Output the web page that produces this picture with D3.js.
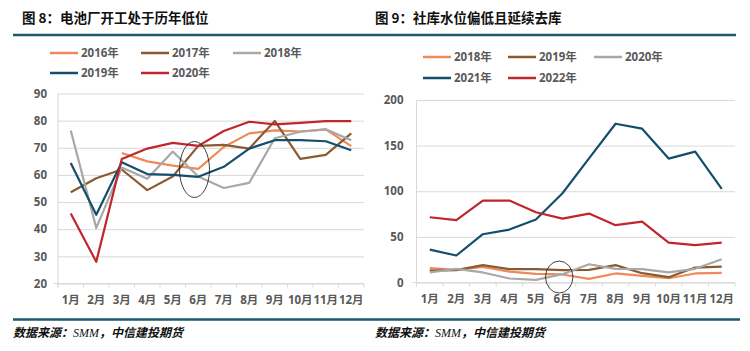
<!DOCTYPE html>
<html>
<head>
<meta charset="utf-8">
<script src="https://cdn.jsdelivr.net/npm/d3@7"></script>
<style>
  body { margin: 0; background: #fff; }
  svg { display: block; }
  .axis text { font-family: "Open Sans", "Noto Sans CJK SC", sans-serif; font-weight: bold; font-size: 11.5px; fill: #595959; }
  .axis path, .axis line { stroke: #D9D9D9; }
  .grid line { stroke: #D9D9D9; }
  .grid path { display: none; }
</style>
</head>
<body>
<div id="chart"></div>
<script>
var months = ["1月","2月","3月","4月","5月","6月","7月","8月","9月","10月","11月","12月"];

// 图8 电池厂开工率
var years8 = ["2016年","2017年","2018年","2019年","2020年"];
var run2016 = [null, null, 68.1, 65, 63.4, 62.2, 70.3, 75.3, 76.4, 76, 76.8, 70.6];
var run2017 = [53.6, 58.8, 62, 54.4, 59.4, 70.7, 71.1, 69.7, 79.9, 65.9, 67.4, 75.3];
var run2018 = [76.4, 40.5, 62.7, 58.6, 68.6, 59.4, 55.2, 57.1, 73.5, 75.9, 76.8, 72.8];
var run2019 = [64.4, 45.3, 64.7, 60.3, 60, 59.3, 63, 69.7, 72.8, 72.8, 72.4, 69.1];
var run2020 = [45.8, 28, 65.9, 69.7, 71.8, 70.7, 76.2, 79.6, 78.6, 79.2, 79.8, 79.8];
var ticks8 = [20, 30, 40, 50, 60, 70, 80, 90];

// 图9 社库
var years9 = ["2018年","2019年","2020年","2021年","2022年"];
var inv2018 = [15.7, 13.9, 17.2, 12, 9.5, 8.8, 4, 9.9, 7.3, 4.7, 9.9, 10.6];
var inv2019 = [13.1, 13.5, 19, 14.6, 14.6, 13.5, 13.9, 19, 10.2, 5.8, 16.4, 17.5];
var inv2020 = [11, 15, 11, 4.4, 2.9, 9.1, 20, 15, 14.6, 11, 15, 25.5];
var inv2021 = [36.1, 29.6, 52.9, 58, 69, 97.8, 136, 174, 168.6, 135.8, 143.4, 102.6];
var inv2022 = [71.5, 68.3, 89.8, 89.8, 77, 70, 75.5, 62.8, 66.8, 43.8, 40.9, 43.8];
var ticks9 = [0, 50, 100, 150, 200];

var colors = ["#EE8A5A", "#8A5B32", "#A8A8A8", "#134F6C", "#C1252D"];

var svg = d3.select("#chart").append("svg")
    .attr("width", 750).attr("height", 351);

var cjk = "'Noto Sans CJK SC', sans-serif";

// 标题
svg.append("text").attr("x", 22).attr("y", 23)
    .attr("font-family", cjk).attr("font-weight", "bold").attr("font-size", 13.5).attr("fill", "#111")
    .text("图 8：电池厂开工处于历年低位");
svg.append("text").attr("x", 375).attr("y", 23)
    .attr("font-family", cjk).attr("font-weight", "bold").attr("font-size", 13.5).attr("fill", "#111")
    .text("图 9：社库水位偏低且延续去库");

svg.append("line").attr("x1", 13).attr("x2", 736).attr("y1", 35).attr("y2", 35)
    .attr("stroke", "#1B5A70").attr("stroke-width", 2.5);
svg.append("line").attr("x1", 13).attr("x2", 740).attr("y1", 319.5).attr("y2", 319.5)
    .attr("stroke", "#1B5A70").attr("stroke-width", 2.5);

// 数据来源
[13, 375].forEach(function (sx) {
    var t = svg.append("text").attr("x", sx).attr("y", 337)
        .attr("font-size", 12).attr("font-weight", "bold").attr("font-style", "italic").attr("fill", "#111")
        .attr("font-family", cjk);
    t.append("tspan").text("数据来源：");
    t.append("tspan").attr("font-family", "'Liberation Serif', serif").attr("font-weight", "normal").text("SMM");
    t.append("tspan").text("，中信建投期货");
});

function drawPanel(opt) {
    var g = svg.append("g");

    var x = d3.scaleBand().domain(months).range([opt.left, opt.right]);
    var y = d3.scaleLinear().domain(opt.domain).range([opt.bottom, opt.top]);

    // 网格
    g.append("g").attr("class", "grid")
        .attr("transform", "translate(" + opt.left + ",0)")
        .call(d3.axisLeft(y).tickValues(opt.ticks).tickSize(-(opt.right - opt.left)).tickFormat(""));

    // y轴
    var ya = g.append("g").attr("class", "axis")
        .attr("transform", "translate(" + opt.left + ",0)")
        .call(d3.axisLeft(y).tickValues(opt.ticks).tickSize(0).tickPadding(opt.ypad));
    ya.select(".domain").attr("d", "M0," + (opt.bottom + 4) + "V" + opt.top);

    // x轴
    var xa = g.append("g").attr("class", "axis")
        .attr("transform", "translate(0," + opt.bottom + ")")
        .call(d3.axisBottom(x).tickSize(0).tickPadding(12));
    xa.select(".domain").attr("d", "M" + (opt.left - 4) + ",0H" + opt.right);
    xa.selectAll(".bnd").data(d3.range(13)).enter().append("line")
        .attr("x1", function (i) { return opt.left + i * x.bandwidth(); })
        .attr("x2", function (i) { return opt.left + i * x.bandwidth(); })
        .attr("y1", 0).attr("y2", 4)
        .attr("stroke", "#D9D9D9");

    // 折线
    var line = d3.line()
        .defined(function (d) { return d != null; })
        .x(function (d, i) { return x(months[i]) + x.bandwidth() / 2; })
        .y(function (d) { return y(d); });

    opt.series.forEach(function (s, k) {
        g.append("path").datum(s)
            .attr("fill", "none")
            .attr("stroke", colors[k])
            .attr("stroke-width", 2.2)
            .attr("stroke-linejoin", "round")
            .attr("d", line);
    });

    // 圈注
    g.append("ellipse")
        .attr("cx", x(months[5]) + opt.ellipse[0])
        .attr("cy", y(opt.ellipse[1]))
        .attr("rx", opt.ellipse[2]).attr("ry", opt.ellipse[3])
        .attr("fill", "none").attr("stroke", "#111").attr("stroke-width", 0.8);

    // 图例
    opt.names.forEach(function (n, k) {
        var lx = opt.legX[k % 3], ly = opt.legY[Math.floor(k / 3)];
        g.append("line").attr("x1", lx).attr("x2", lx + 28).attr("y1", ly).attr("y2", ly)
            .attr("stroke", colors[k]).attr("stroke-width", 2.5);
        g.append("text").attr("x", lx + 31).attr("y", ly + 4)
            .attr("font-family", "'Open Sans', 'Noto Sans CJK SC', sans-serif")
            .attr("font-weight", "bold").attr("font-size", 11.5).attr("fill", "#595959")
            .text(n);
    });
}

drawPanel({
    left: 58, right: 364, top: 93.5, bottom: 283.5,
    domain: [20, 90], ticks: ticks8, ypad: 11,
    series: [run2016, run2017, run2018, run2019, run2020],
    names: years8,
    legX: [50, 141, 233], legY: [53, 73],
    ellipse: [9, 62, 15, 28]
});

drawPanel({
    left: 416.5, right: 735, top: 100, bottom: 282.5,
    domain: [0, 200], ticks: ticks9, ypad: 13,
    series: [inv2018, inv2019, inv2020, inv2021, inv2022],
    names: years9,
    legX: [423, 508, 594], legY: [57, 78],
    ellipse: [10, 6, 13.7, 16]
});
</script>
</body>
</html>
